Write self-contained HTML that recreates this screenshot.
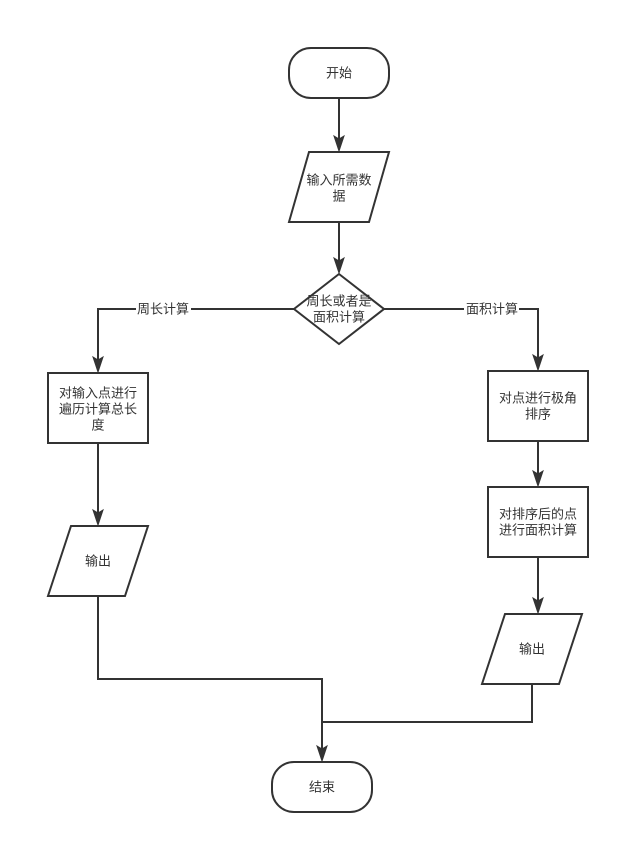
<!DOCTYPE html>
<html><head><meta charset="utf-8"><style>
html,body{margin:0;padding:0;background:#fff;}
svg{display:block;}
text{font-family:"Liberation Sans","Noto Sans CJK SC",sans-serif;font-size:13px;fill:#333;text-anchor:middle;dominant-baseline:central;}
</style></head><body>
<svg width="620" height="844" viewBox="0 0 620 844" xmlns="http://www.w3.org/2000/svg">
<g fill="none" stroke="#333" stroke-width="2">
<!-- start -->
<rect x="289" y="48" width="100" height="50" rx="22" ry="22" fill="#fff"/>
<!-- input parallelogram -->
<polygon points="309,152 389,152 369,222 289,222" fill="#fff"/>
<!-- diamond -->
<polygon points="339,274 384,309 339,344 294,309" fill="#fff"/>
<!-- left box -->
<rect x="48" y="373" width="100" height="70" fill="#fff"/>
<!-- left output -->
<polygon points="71,526 148,526 125,596 48,596" fill="#fff"/>
<!-- right box1 -->
<rect x="488" y="371" width="100" height="70" fill="#fff"/>
<!-- right box2 -->
<rect x="488" y="487" width="100" height="70" fill="#fff"/>
<!-- right output -->
<polygon points="505,614 582,614 559,684 482,684" fill="#fff"/>
<!-- end -->
<rect x="272" y="762" width="100" height="50" rx="22" ry="22" fill="#fff"/>

<!-- connectors -->
<path d="M339,98 V139"/>
<path d="M339,222 V261"/>
<path d="M294,309 H98 V360"/>
<path d="M384,309 H538 V358"/>
<path d="M98,443 V513"/>
<path d="M538,441 V474"/>
<path d="M538,557 V601"/>
<path d="M98,596 V679 H322 V749"/>
<path d="M532,684 V722 H322"/>
</g>
<g fill="#333" stroke="#333" stroke-width="1">
<polygon points="339,151 334,136 339,139 344,136"/>
<polygon points="339,273 334,258 339,261 344,258"/>
<polygon points="98,372 93,357 98,360 103,357"/>
<polygon points="538,370 533,355 538,358 543,355"/>
<polygon points="98,525 93,510 98,513 103,510"/>
<polygon points="538,486 533,471 538,474 543,471"/>
<polygon points="538,613 533,598 538,601 543,598"/>
<polygon points="322,761 317,746 322,749 327,746"/>
</g>
<!-- edge label backgrounds -->
<rect x="136" y="301" width="55" height="16" fill="#fff"/>
<rect x="464" y="301" width="55" height="16" fill="#fff"/>

<text x="339" y="73">开始</text>
<text x="339" y="180">输入所需数</text>
<text x="339" y="196">据</text>
<text x="339" y="301">周长或者是</text>
<text x="339" y="317">面积计算</text>
<text x="163" y="309">周长计算</text>
<text x="492" y="309">面积计算</text>
<text x="98" y="393">对输入点进行</text>
<text x="98" y="409">遍历计算总长</text>
<text x="98" y="425">度</text>
<text x="98" y="561">输出</text>
<text x="538" y="398">对点进行极角</text>
<text x="538" y="414">排序</text>
<text x="538" y="514">对排序后的点</text>
<text x="538" y="530">进行面积计算</text>
<text x="532" y="649">输出</text>
<text x="322" y="787">结束</text>
</svg>
</body></html>
